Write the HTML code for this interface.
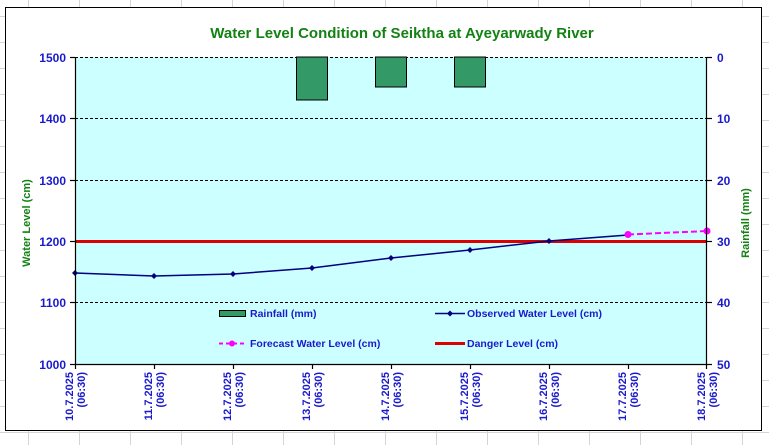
<!DOCTYPE html>
<html><head><meta charset="utf-8"><style>
html,body{margin:0;padding:0;background:#fff;}
svg{display:block;font-family:"Liberation Sans",Arial,sans-serif;font-weight:bold;}
</style></head><body>
<svg width="769" height="445" viewBox="0 0 769 445" xmlns="http://www.w3.org/2000/svg">
<g stroke="#d4d4d4" stroke-width="1">
<line x1="28.5" y1="0" x2="28.5" y2="445"/><line x1="79.5" y1="0" x2="79.5" y2="445"/><line x1="130.5" y1="0" x2="130.5" y2="445"/><line x1="181.5" y1="0" x2="181.5" y2="445"/><line x1="232.5" y1="0" x2="232.5" y2="445"/><line x1="283.5" y1="0" x2="283.5" y2="445"/><line x1="334.5" y1="0" x2="334.5" y2="445"/><line x1="385.5" y1="0" x2="385.5" y2="445"/><line x1="436.5" y1="0" x2="436.5" y2="445"/><line x1="487.5" y1="0" x2="487.5" y2="445"/><line x1="538.5" y1="0" x2="538.5" y2="445"/><line x1="589.5" y1="0" x2="589.5" y2="445"/><line x1="640.5" y1="0" x2="640.5" y2="445"/><line x1="691.5" y1="0" x2="691.5" y2="445"/><line x1="742.5" y1="0" x2="742.5" y2="445"/>
<line x1="0" y1="16.5" x2="769" y2="16.5"/><line x1="0" y1="42.5" x2="769" y2="42.5"/><line x1="0" y1="68.5" x2="769" y2="68.5"/><line x1="0" y1="94.5" x2="769" y2="94.5"/><line x1="0" y1="120.5" x2="769" y2="120.5"/><line x1="0" y1="146.5" x2="769" y2="146.5"/><line x1="0" y1="172.5" x2="769" y2="172.5"/><line x1="0" y1="198.5" x2="769" y2="198.5"/><line x1="0" y1="224.5" x2="769" y2="224.5"/><line x1="0" y1="250.5" x2="769" y2="250.5"/><line x1="0" y1="276.5" x2="769" y2="276.5"/><line x1="0" y1="302.5" x2="769" y2="302.5"/><line x1="0" y1="328.5" x2="769" y2="328.5"/><line x1="0" y1="354.5" x2="769" y2="354.5"/><line x1="0" y1="380.5" x2="769" y2="380.5"/><line x1="0" y1="406.5" x2="769" y2="406.5"/><line x1="0" y1="432.5" x2="769" y2="432.5"/>
</g>
<rect x="5.5" y="7.5" width="756" height="423" fill="#fff" stroke="#000" stroke-width="1"/>
<text x="402" y="38" text-anchor="middle" fill="#138213" font-size="15">Water Level Condition of Seiktha at Ayeyarwady River</text>
<rect x="75" y="57" width="632" height="307" fill="#ccffff"/>
<g stroke="#000" stroke-width="1" stroke-dasharray="3,2">
<line x1="75" y1="57.5" x2="707" y2="57.5"/><line x1="75" y1="118.5" x2="707" y2="118.5"/><line x1="75" y1="180.5" x2="707" y2="180.5"/><line x1="75" y1="241.5" x2="707" y2="241.5"/><line x1="75" y1="302.5" x2="707" y2="302.5"/>
</g>
<g fill="#339966" stroke="#000" stroke-width="1">
<rect x="296.5" y="57" width="31" height="43"/><rect x="375.5" y="57" width="31" height="30"/><rect x="454.5" y="57" width="31" height="30"/>
</g>
<line x1="75" y1="241.5" x2="707" y2="241.5" stroke="#dd0000" stroke-width="3"/>
<polyline points="75,273 154,276 233,274 312,268 391,258 470,250 549,241 628,235" fill="none" stroke="#000080" stroke-width="1.5"/>
<g fill="#000080"><path d="M75,270l3,3l-3,3l-3,-3z"/><path d="M154,273l3,3l-3,3l-3,-3z"/><path d="M233,271l3,3l-3,3l-3,-3z"/><path d="M312,265l3,3l-3,3l-3,-3z"/><path d="M391,255l3,3l-3,3l-3,-3z"/><path d="M470,247l3,3l-3,3l-3,-3z"/><path d="M549,238l3,3l-3,3l-3,-3z"/></g>
<line x1="628" y1="234.5" x2="707" y2="231" stroke="#ff00ff" stroke-width="2" stroke-dasharray="6,3"/>
<circle cx="628" cy="234.5" r="3.5" fill="#ff00ff"/><circle cx="707" cy="231" r="3.5" fill="#ff00ff"/>
<g stroke="#000" stroke-width="1.2" fill="none">
<line x1="75.5" y1="57" x2="75.5" y2="364"/><line x1="706.5" y1="57" x2="706.5" y2="364"/><line x1="75" y1="364.5" x2="707" y2="364.5"/>
<line x1="70" y1="57.5" x2="75" y2="57.5"/><line x1="70" y1="118.5" x2="75" y2="118.5"/><line x1="70" y1="180.5" x2="75" y2="180.5"/><line x1="70" y1="241.5" x2="75" y2="241.5"/><line x1="70" y1="302.5" x2="75" y2="302.5"/><line x1="70" y1="364.5" x2="75" y2="364.5"/>
<line x1="707" y1="57.5" x2="712" y2="57.5"/><line x1="707" y1="118.5" x2="712" y2="118.5"/><line x1="707" y1="180.5" x2="712" y2="180.5"/><line x1="707" y1="241.5" x2="712" y2="241.5"/><line x1="707" y1="302.5" x2="712" y2="302.5"/><line x1="707" y1="364.5" x2="712" y2="364.5"/>
<line x1="75.5" y1="364" x2="75.5" y2="369"/><line x1="154.5" y1="364" x2="154.5" y2="369"/><line x1="233.5" y1="364" x2="233.5" y2="369"/><line x1="312.5" y1="364" x2="312.5" y2="369"/><line x1="391.5" y1="364" x2="391.5" y2="369"/><line x1="470.5" y1="364" x2="470.5" y2="369"/><line x1="549.5" y1="364" x2="549.5" y2="369"/><line x1="628.5" y1="364" x2="628.5" y2="369"/><line x1="706.5" y1="364" x2="706.5" y2="369"/>
</g>
<g fill="#1a1acc" font-size="12" text-anchor="end">
<text x="66" y="62">1500</text><text x="66" y="123">1400</text><text x="66" y="185">1300</text><text x="66" y="246">1200</text><text x="66" y="307">1100</text><text x="66" y="369">1000</text>
</g>
<g fill="#1a1acc" font-size="12">
<text x="717" y="62">0</text><text x="717" y="123">10</text><text x="717" y="185">20</text><text x="717" y="246">30</text><text x="717" y="307">40</text><text x="717" y="369">50</text>
</g>
<text transform="translate(30,223) rotate(-90)" text-anchor="middle" fill="#138213" font-size="11">Water Level (cm)</text>
<text transform="translate(749,223) rotate(-90)" text-anchor="middle" fill="#138213" font-size="11">Rainfall (mm)</text>
<g fill="#1a1acc" font-size="11" text-anchor="end">
<g transform="translate(75,372) rotate(-90)"><text x="0" y="-2">10.7.2025</text><text x="0" y="10">(06:30)</text></g>
<g transform="translate(154,372) rotate(-90)"><text x="0" y="-2">11.7.2025</text><text x="0" y="10">(06:30)</text></g>
<g transform="translate(233,372) rotate(-90)"><text x="0" y="-2">12.7.2025</text><text x="0" y="10">(06:30)</text></g>
<g transform="translate(312,372) rotate(-90)"><text x="0" y="-2">13.7.2025</text><text x="0" y="10">(06:30)</text></g>
<g transform="translate(391,372) rotate(-90)"><text x="0" y="-2">14.7.2025</text><text x="0" y="10">(06:30)</text></g>
<g transform="translate(470,372) rotate(-90)"><text x="0" y="-2">15.7.2025</text><text x="0" y="10">(06:30)</text></g>
<g transform="translate(549,372) rotate(-90)"><text x="0" y="-2">16.7.2025</text><text x="0" y="10">(06:30)</text></g>
<g transform="translate(628,372) rotate(-90)"><text x="0" y="-2">17.7.2025</text><text x="0" y="10">(06:30)</text></g>
<g transform="translate(707,372) rotate(-90)"><text x="0" y="-2">18.7.2025</text><text x="0" y="10">(06:30)</text></g>
</g>
<rect x="219.5" y="310.5" width="26" height="6" fill="#339966" stroke="#000"/>
<line x1="435" y1="313.5" x2="465" y2="313.5" stroke="#000080" stroke-width="1.5"/><path d="M450,310.5l3,3l-3,3l-3,-3z" fill="#000080"/>
<line x1="219" y1="343.5" x2="246" y2="343.5" stroke="#ff00ff" stroke-width="2" stroke-dasharray="4,3"/><circle cx="232" cy="343.5" r="3" fill="#ff00ff"/>
<line x1="435" y1="343.5" x2="465" y2="343.5" stroke="#dd0000" stroke-width="3"/>
<g fill="#1a1acc" font-size="10.5">
<text x="250" y="317">Rainfall (mm)</text><text x="467" y="317">Observed Water Level (cm)</text>
<text x="250" y="347">Forecast Water Level (cm)</text><text x="467" y="347">Danger Level (cm)</text>
</g>
</svg>
</body></html>
